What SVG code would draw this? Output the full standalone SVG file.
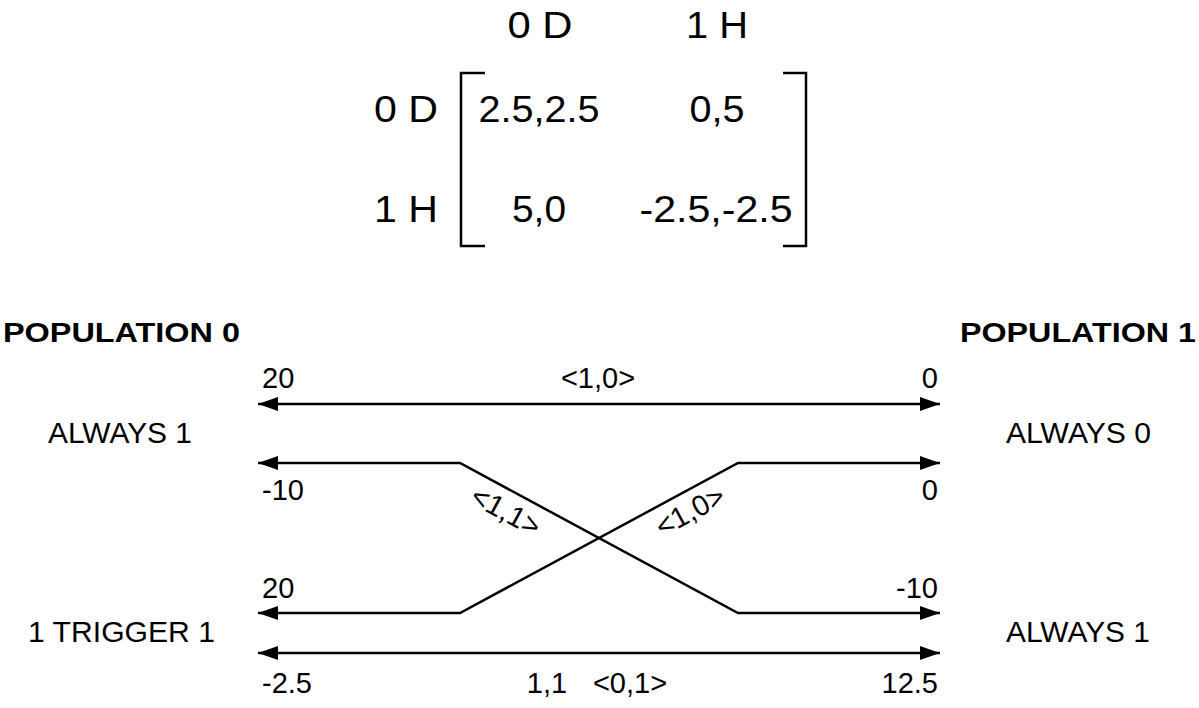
<svg xmlns="http://www.w3.org/2000/svg" width="1199" height="708" viewBox="0 0 1199 708">
<defs>
<style>
text{font-family:"Liberation Sans",Arial,sans-serif;fill:#000}
.m{font-size:37px}
.t{font-size:29px}
.b{font-size:27px;font-weight:bold}
.c{stroke:#000;stroke-width:2.5;fill:none}
</style>
<marker id="ah" markerUnits="userSpaceOnUse" markerWidth="22" markerHeight="16" refX="20" refY="8" orient="auto-start-reverse" viewBox="0 0 22 16">
<path d="M0,1 L20,8 L0,15 Z" fill="#000"/>
</marker>
</defs>
<rect width="1199" height="708" fill="#fff"/>
<g id="matrix">
<text class="m" x="540" y="38" text-anchor="middle" textLength="65" lengthAdjust="spacingAndGlyphs">0 D</text>
<text class="m" x="717" y="38" text-anchor="middle" textLength="62" lengthAdjust="spacingAndGlyphs">1 H</text>
<text class="m" x="406" y="122" text-anchor="middle" textLength="64" lengthAdjust="spacingAndGlyphs">0 D</text>
<text class="m" x="406" y="222" text-anchor="middle" textLength="64" lengthAdjust="spacingAndGlyphs">1 H</text>
<path class="c" d="M485,73 H461 V246 H485"/>
<path class="c" d="M783,73 H806 V246 H783"/>
<text class="m" x="539" y="122" text-anchor="middle" textLength="121" lengthAdjust="spacingAndGlyphs">2.5,2.5</text>
<text class="m" x="717" y="122" text-anchor="middle" textLength="55" lengthAdjust="spacingAndGlyphs">0,5</text>
<text class="m" x="539" y="222" text-anchor="middle" textLength="54" lengthAdjust="spacingAndGlyphs">5,0</text>
<text class="m" x="716" y="222" text-anchor="middle" textLength="153" lengthAdjust="spacingAndGlyphs">-2.5,-2.5</text>
</g>
<g id="population0">
<text class="b" x="3" y="342" textLength="237" lengthAdjust="spacingAndGlyphs">POPULATION 0</text>
<text class="t" x="48" y="443" textLength="144" lengthAdjust="spacingAndGlyphs">ALWAYS 1</text>
<text class="t" x="28" y="642" textLength="187" lengthAdjust="spacingAndGlyphs">1 TRIGGER 1</text>
</g>
<g id="population1">
<text class="b" x="960" y="342" textLength="236" lengthAdjust="spacingAndGlyphs">POPULATION 1</text>
<text class="t" x="1006" y="443" textLength="145" lengthAdjust="spacingAndGlyphs">ALWAYS 0</text>
<text class="t" x="1006" y="642" textLength="144" lengthAdjust="spacingAndGlyphs">ALWAYS 1</text>
</g>
<g id="connectors">
<path class="c" d="M258,404 H940" marker-start="url(#ah)" marker-end="url(#ah)"/>
<path class="c" d="M258,463 H460 L738,613 H940" marker-start="url(#ah)" marker-end="url(#ah)"/>
<path class="c" d="M940,463 H738 L460,613 H258" marker-start="url(#ah)" marker-end="url(#ah)"/>
<path class="c" d="M258,653 H940" marker-start="url(#ah)" marker-end="url(#ah)"/>
</g>
<g id="labels">
<text class="t" x="262" y="388">20</text>
<text class="t" x="598" y="388" text-anchor="middle">&lt;1,0&gt;</text>
<text class="t" x="938" y="388" text-anchor="end">0</text>
<text class="t" x="262" y="500">-10</text>
<text class="t" x="938" y="500" text-anchor="end">0</text>
<text class="t" x="262" y="598">20</text>
<text class="t" x="938" y="598" text-anchor="end">-10</text>
<text class="t" x="262" y="693">-2.5</text>
<text class="t" x="547" y="693" text-anchor="middle">1,1</text>
<text class="t" x="630" y="693" text-anchor="middle">&lt;0,1&gt;</text>
<text class="t" x="938" y="693" text-anchor="end">12.5</text>
<text class="t" transform="translate(506,511) rotate(28.4)" x="0" y="10" text-anchor="middle">&lt;1,1&gt;</text>
<text class="t" transform="translate(690,511) rotate(-28.4)" x="0" y="10" text-anchor="middle">&lt;1,0&gt;</text>
</g>
</svg>
